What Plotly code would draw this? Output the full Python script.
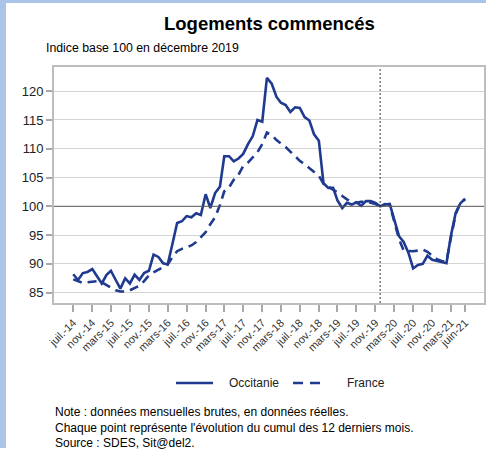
import pandas as pd
import plotly.graph_objects as go

months = pd.date_range("2014-07-01", periods=84, freq="MS")

occitanie = [88.2, 87.2, 88.4, 88.6, 89.1, 87.8, 86.6, 88.1, 88.8, 87.2,
             85.7, 87.5, 86.6, 88.1, 87.2, 88.4, 88.8, 91.6, 91.2, 90.1,
             89.9, 93.5, 97.1, 97.4, 98.3, 98.1, 98.8, 98.5, 102.1, 99.7,
             102.3, 103.4, 108.7, 108.7, 107.8, 108.3, 109.1, 110.8, 112.2, 115.0,
             114.7, 122.3, 121.3, 119.0, 118.0, 117.6, 116.4, 117.2, 117.1, 115.5,
             114.9, 112.5, 111.4, 104.0, 103.2, 103.2, 101.0, 99.7, 100.6, 100.3,
             100.7, 100.1, 100.9, 100.9, 100.6, 100.0, 100.3, 100.4, 97.5, 94.8,
             93.8, 91.9, 89.2, 89.8, 90.0, 91.4, 90.7, 90.5, 90.4, 90.1,
             94.8, 98.8, 100.5, 101.3]

france = [87.3, 87.0, 86.7, 86.8, 86.9, 87.0, 86.8, 86.3, 85.8, 85.4,
          85.2, 85.2, 85.4, 85.8, 86.2, 87.0, 88.0, 88.5, 89.0, 89.5,
          89.9, 91.2, 92.2, 92.6, 92.9, 93.2, 93.8, 94.7, 95.5, 96.9,
          98.1, 100.2, 102.6, 103.3, 104.6, 105.5, 107.0, 107.6, 108.5, 109.4,
          110.8, 112.8, 112.4, 111.5, 110.9, 110.3, 109.5, 108.6, 107.9, 107.3,
          106.6, 106.0, 105.3, 103.9, 103.4, 103.0, 102.4, 101.8, 101.2, 100.8,
          100.6, 100.8, 100.8, 100.6, 100.4, 100.0, 100.4, 100.3, 97.5, 94.3,
          92.3, 92.2, 92.2, 92.3, 92.5, 92.1, 91.5, 90.8, 90.5, 90.4,
          94.5, 98.6, 100.6, 101.2]

tick_dates = ["2014-07-01", "2014-11-01", "2015-03-01", "2015-07-01", "2015-11-01",
              "2016-03-01", "2016-07-01", "2016-11-01", "2017-03-01", "2017-07-01",
              "2017-11-01", "2018-03-01", "2018-07-01", "2018-11-01", "2019-03-01",
              "2019-07-01", "2019-11-01", "2020-03-01", "2020-07-01", "2020-11-01",
              "2021-03-01", "2021-06-01"]
tick_labels = ["juil.-14", "nov.-14", "mars-15", "juil.-15", "nov.-15",
               "mars-16", "juil.-16", "nov.-16", "mars-17", "juil.-17",
               "nov.-17", "mars-18", "juil.-18", "nov.-18", "mars-19",
               "juil.-19", "nov.-19", "mars-20", "juil.-20", "nov.-20",
               "mars-21", "juin-21"]
y_ticks = [85, 90, 95, 100, 105, 110, 115, 120]
series_names = ["Occitanie", "France"]

BLUE = "#1f3a8f"
FONT = "Liberation Sans, Arial, sans-serif"
DASH = "9px,6px"

fig = go.Figure()
fig.add_trace(go.Scatter(x=months, y=occitanie, mode="lines", name=series_names[0],
                         line=dict(color=BLUE, width=2.6)))
fig.add_trace(go.Scatter(x=months, y=france, mode="lines", name=series_names[1],
                         line=dict(color=BLUE, width=2.6, dash=DASH)))

W, H = 486, 455
L, R, T, B = 54, 2, 67, 152
pw, ph = W - L - R, H - T - B


def px(x):
    return (x - L) / pw


def py(y):
    return (H - B - y) / ph


LEG_Y = 383
shapes = [
    # reference line at 100
    dict(type="line", xref="paper", yref="y", x0=0, x1=1, y0=100, y1=100,
         line=dict(color="#5a5a5a", width=1), layer="above"),
    # base month marker
    dict(type="line", xref="x", yref="paper", x0="2019-12-01", x1="2019-12-01",
         y0=0, y1=1, line=dict(color="#333333", width=1, dash="2px,2px"), layer="above"),
    # page frame strips
    dict(type="rect", xref="paper", yref="paper", x0=px(0), x1=px(W), y0=py(0), y1=py(3),
         fillcolor="#abc5e8", line=dict(width=0), layer="below"),
    dict(type="rect", xref="paper", yref="paper", x0=px(0), x1=px(6), y0=py(3), y1=py(448),
         fillcolor="#abc5e8", line=dict(width=0), layer="below"),
    # legend samples
    dict(type="line", xref="paper", yref="paper", x0=px(176), x1=px(213),
         y0=py(LEG_Y), y1=py(LEG_Y), line=dict(color=BLUE, width=2.6)),
    dict(type="line", xref="paper", yref="paper", x0=px(293), x1=px(326),
         y0=py(LEG_Y), y1=py(LEG_Y), line=dict(color=BLUE, width=2.6, dash="10px,7px")),
]

annotations = [
    dict(text="<b>Logements commencés</b>", xref="paper", yref="paper",
         x=px(269), y=py(23), xanchor="center", yanchor="middle", showarrow=False,
         font=dict(size=18.5, color="#000000", family=FONT)),
    dict(text="Indice base 100 en décembre 2019", xref="paper", yref="paper",
         x=px(44), y=py(48), xanchor="left", yanchor="middle", showarrow=False,
         font=dict(size=12.3, color="#000000", family=FONT)),
    dict(text=series_names[0], xref="paper", yref="paper",
         x=px(227), y=py(LEG_Y), xanchor="left", yanchor="middle", showarrow=False,
         font=dict(size=12, color="#222222", family=FONT)),
    dict(text=series_names[1], xref="paper", yref="paper",
         x=px(345), y=py(LEG_Y), xanchor="left", yanchor="middle", showarrow=False,
         font=dict(size=12, color="#222222", family=FONT)),
    dict(text="Note : données mensuelles brutes, en données réelles.<br>"
              "Chaque point représente l'évolution du cumul des 12 derniers mois.<br>"
              "Source : SDES, Sit@del2.",
         xref="paper", yref="paper", x=px(53), y=py(403), xanchor="left", yanchor="top",
         align="left", showarrow=False,
         font=dict(size=12, color="#000000", family=FONT)),
]

fig.update_layout(
    width=W, height=H,
    margin=dict(l=L, r=R, t=T, b=B, autoexpand=False),
    paper_bgcolor="white", plot_bgcolor="white",
    font=dict(family=FONT, color="#222222"),
    showlegend=False,
    shapes=shapes,
    annotations=annotations,
)

fig.update_xaxes(
    range=["2014-02-27", "2021-10-01"],
    tickmode="array", tickvals=tick_dates, ticktext=tick_labels,
    tickangle=-45, tickfont=dict(size=11, color="#333333", family=FONT),
    showgrid=False, zeroline=False, automargin=False,
    ticks="outside", ticklen=7, tickcolor="#a8a8a8", tickwidth=2,
    showline=True, linecolor="#bdbdbd", linewidth=2, mirror=True,
)
fig.update_yaxes(
    range=[83.2, 124.2],
    tickmode="array", tickvals=y_ticks, automargin=False,
    tickfont=dict(size=13, color="#222222", family=FONT),
    showgrid=True, gridcolor="#d4d4d4", gridwidth=1, zeroline=False,
    ticks="outside", ticklen=6, tickcolor="#a8a8a8", tickwidth=2,
    showline=True, linecolor="#bdbdbd", linewidth=2, mirror=True,
)

fig.write_html("out.html",
               config={"displayModeBar": False},
               post_script="document.body.style.margin='0';document.body.style.overflow='hidden';")
